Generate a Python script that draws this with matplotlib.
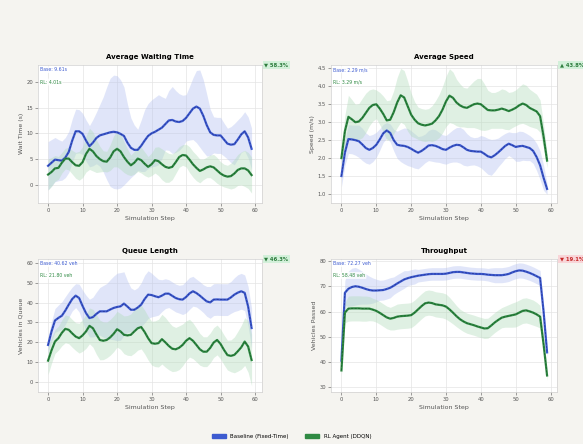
"""Baseline vs RL agent traffic metrics, 2x2 panel."""

import numpy as np
import matplotlib
matplotlib.use("Agg")
import matplotlib.pyplot as plt
from matplotlib.patches import Patch


STEPS = list(range(60))

WAIT_BASE = [3.7, 4.3, 4.9, 4.8, 4.7, 5.3, 6.4, 8.6, 10.4, 10.4, 9.9, 8.6, 7.5, 8.2, 9.1, 9.6, 9.8, 10.0, 10.2, 10.3,
             10.2, 9.9, 9.5, 8.2, 7.2, 6.8, 6.8, 7.6, 8.6, 9.5, 10.0, 10.3, 10.7, 11.1, 11.8, 12.5, 12.6, 12.3, 12.2, 12.4,
             13.0, 13.9, 14.8, 15.2, 14.8, 13.4, 11.6, 10.2, 9.7, 9.6, 9.6, 8.8, 8.0, 7.8, 7.9, 8.8, 9.8, 10.4, 9.2, 7.0]
WAIT_BASE_STD = [4.7, 4.5, 4.3, 4.0, 3.8, 3.9, 4.0, 4.2, 4.3, 4.2, 4.0, 4.0, 4.0, 4.5, 5.0, 6.0, 7.3, 9.0, 10.5, 11.0,
                 11.0, 10.5, 9.5, 7.5, 5.8, 4.8, 4.0, 5.0, 6.0, 6.3, 6.5, 6.7, 6.8, 6.0, 5.0, 5.8, 6.5, 6.0, 5.5, 5.0,
                 4.5, 5.2, 6.0, 7.0, 7.5, 7.0, 6.0, 4.5, 3.5, 3.5, 3.5, 3.2, 3.0, 3.5, 4.0, 3.8, 3.5, 3.8, 4.0, 4.0]
WAIT_RL = [2.0, 2.5, 3.2, 3.3, 4.3, 5.1, 5.1, 4.4, 3.8, 3.7, 4.4, 6.0, 7.0, 6.5, 5.6, 5.0, 4.6, 4.5, 5.3, 6.5,
           7.0, 6.5, 5.4, 4.5, 3.8, 4.3, 5.1, 4.8, 4.1, 3.5, 4.0, 4.8, 4.6, 4.0, 3.5, 3.3, 3.5, 4.4, 5.4, 5.8,
           5.7, 4.9, 4.0, 3.3, 2.7, 3.0, 3.4, 3.6, 3.4, 2.8, 2.2, 1.8, 1.6, 1.7, 2.2, 2.9, 3.2, 3.2, 2.8, 1.9]
WAIT_RL_STD = [3.0, 2.8, 2.5, 2.2, 2.0, 2.0, 2.2, 2.3, 2.5, 2.8, 3.0, 3.5, 4.0, 3.8, 3.2, 2.5, 2.0, 2.0, 2.5, 3.0,
               3.5, 3.5, 3.0, 2.5, 2.0, 2.2, 2.5, 2.5, 2.3, 2.0, 2.2, 2.5, 2.8, 3.0, 3.0, 2.8, 2.5, 2.2, 2.0, 2.0,
               2.2, 2.5, 2.5, 2.5, 2.3, 2.0, 2.0, 2.2, 2.5, 2.5, 2.3, 2.2, 2.2, 2.5, 2.8, 3.0, 3.2, 3.5, 3.5, 3.5]

SPEED_BASE = [1.50, 2.15, 2.53, 2.52, 2.50, 2.47, 2.38, 2.28, 2.23, 2.28, 2.37, 2.52, 2.69, 2.77, 2.70, 2.50, 2.37, 2.35, 2.34, 2.31,
              2.26, 2.20, 2.15, 2.20, 2.27, 2.35, 2.36, 2.34, 2.30, 2.25, 2.23, 2.29, 2.34, 2.37, 2.36, 2.30, 2.23, 2.20, 2.19, 2.18,
              2.18, 2.12, 2.05, 2.02, 2.08, 2.16, 2.25, 2.34, 2.40, 2.36, 2.31, 2.33, 2.34, 2.31, 2.28, 2.20, 2.03, 1.80, 1.45, 1.14]
SPEED_BASE_STD = [0.30, 0.35, 0.40, 0.40, 0.42, 0.45, 0.45, 0.42, 0.40, 0.38, 0.35, 0.30, 0.25, 0.22, 0.25, 0.30, 0.38, 0.45, 0.50, 0.52,
                  0.50, 0.48, 0.45, 0.42, 0.40, 0.42, 0.45, 0.45, 0.42, 0.40, 0.40, 0.42, 0.45, 0.48, 0.50, 0.50, 0.45, 0.40, 0.38, 0.40,
                  0.45, 0.48, 0.50, 0.50, 0.45, 0.40, 0.38, 0.35, 0.33, 0.35, 0.40, 0.42, 0.40, 0.38, 0.35, 0.35, 0.38, 0.40, 0.35, 0.15]
SPEED_RL = [2.00, 2.75, 3.15, 3.08, 3.00, 3.02, 3.12, 3.26, 3.40, 3.48, 3.50, 3.38, 3.23, 3.05, 3.07, 3.28, 3.55, 3.75, 3.69, 3.45,
            3.21, 3.07, 2.97, 2.93, 2.91, 2.93, 2.96, 3.05, 3.17, 3.35, 3.58, 3.74, 3.68, 3.55, 3.47, 3.42, 3.40, 3.45, 3.50, 3.52,
            3.50, 3.42, 3.34, 3.33, 3.33, 3.35, 3.38, 3.35, 3.31, 3.35, 3.40, 3.47, 3.52, 3.48, 3.40, 3.35, 3.30, 3.17, 2.60, 1.93]
SPEED_RL_STD = [0.25, 0.45, 0.60, 0.55, 0.50, 0.50, 0.55, 0.55, 0.50, 0.45, 0.40, 0.45, 0.50, 0.55, 0.55, 0.60, 0.70, 0.75, 0.75, 0.70,
                0.60, 0.50, 0.45, 0.45, 0.45, 0.45, 0.50, 0.55, 0.60, 0.65, 0.70, 0.75, 0.72, 0.65, 0.60, 0.55, 0.55, 0.60, 0.65, 0.70,
                0.72, 0.65, 0.55, 0.50, 0.50, 0.52, 0.55, 0.55, 0.52, 0.50, 0.50, 0.52, 0.55, 0.55, 0.52, 0.50, 0.48, 0.45, 0.35, 0.20]

QUEUE_BASE = [18.7, 25.5, 31.0, 32.3, 33.4, 36.0, 39.0, 41.8, 43.5, 42.3, 38.3, 34.7, 32.2, 32.7, 34.3, 35.6, 35.6, 35.6, 36.5, 37.3,
              37.8, 38.1, 39.5, 38.0, 36.4, 36.4, 37.5, 39.0, 41.8, 44.0, 43.8, 43.2, 42.7, 43.5, 44.5, 44.5, 43.4, 42.3, 41.7, 41.5,
              42.8, 44.6, 45.7, 44.8, 43.5, 42.0, 40.6, 40.1, 41.5, 41.6, 41.5, 41.5, 41.5, 42.6, 44.0, 45.0, 45.7, 44.9, 38.0, 27.2]
QUEUE_BASE_STD = [4.0, 5.0, 6.0, 6.5, 7.0, 7.0, 6.5, 6.0, 6.0, 7.0, 8.0, 9.0, 9.5, 10.0, 11.0, 12.0, 13.0, 14.0, 15.0, 16.0,
                  17.0, 17.0, 16.0, 13.0, 11.0, 10.0, 10.0, 11.0, 12.0, 12.0, 11.0, 10.0, 9.0, 8.0, 7.5, 7.0, 7.0, 7.0, 7.0, 7.5,
                  8.0, 8.0, 7.5, 7.0, 7.0, 7.0, 7.5, 8.0, 8.0, 8.0, 8.0, 8.0, 8.0, 8.0, 8.5, 9.0, 9.0, 9.0, 10.0, 10.0]
QUEUE_RL = [10.8, 16.0, 20.4, 22.1, 24.8, 26.8, 26.3, 24.5, 22.9, 22.1, 23.5, 25.5, 28.3, 27.1, 24.0, 21.2, 20.8, 21.2, 22.5, 24.3,
            26.6, 25.5, 23.8, 23.5, 23.8, 25.5, 27.1, 27.7, 25.2, 22.1, 19.6, 19.3, 19.6, 21.6, 20.0, 18.2, 16.8, 16.5, 17.3, 18.7,
            20.8, 22.1, 20.8, 18.7, 16.5, 15.3, 15.3, 17.2, 19.9, 21.2, 19.2, 16.2, 13.6, 13.2, 13.7, 15.5, 17.5, 20.4, 17.9, 11.1]
QUEUE_RL_STD = [7.0, 6.5, 6.0, 6.0, 6.5, 7.0, 7.0, 7.0, 7.0, 7.5, 8.0, 8.5, 9.0, 9.5, 10.0, 10.0, 9.5, 9.0, 9.0, 9.0,
                9.0, 9.0, 9.5, 10.0, 10.5, 11.0, 11.0, 11.0, 11.0, 11.0, 11.0, 11.5, 12.0, 12.5, 12.5, 12.0, 11.5, 11.0, 11.0, 10.5,
                10.0, 9.5, 9.0, 8.5, 8.0, 7.5, 7.5, 7.5, 7.5, 7.5, 7.5, 7.5, 7.5, 8.0, 9.0, 10.0, 11.0, 12.0, 13.0, 13.0]

THRU_BASE = [40.5, 67.5, 69.1, 69.8, 70.1, 69.9, 69.5, 69.0, 68.6, 68.4, 68.4, 68.5, 68.6, 69.0, 69.5, 70.3, 71.2, 72.0, 72.8, 73.3,
             73.7, 74.0, 74.3, 74.5, 74.7, 74.9, 75.0, 75.0, 75.0, 75.0, 75.1, 75.4, 75.7, 75.8, 75.8, 75.6, 75.4, 75.2, 75.1, 75.0,
             75.0, 74.9, 74.7, 74.6, 74.5, 74.5, 74.5, 74.7, 75.0, 75.6, 76.1, 76.4, 76.3, 75.9, 75.4, 74.8, 74.1, 73.4, 60.0, 43.8]
THRU_BASE_STD = [3.0, 5.0, 7.0, 7.5, 7.5, 7.0, 6.5, 6.0, 5.5, 5.0, 4.5, 4.0, 4.0, 4.0, 4.0, 3.5, 3.5, 3.5, 3.5, 3.0,
                 3.0, 3.0, 2.5, 2.5, 2.5, 2.5, 2.5, 2.5, 2.5, 2.5, 2.5, 2.5, 2.5, 2.5, 2.5, 2.5, 2.5, 2.5, 2.5, 2.5,
                 2.5, 2.5, 2.5, 2.8, 3.0, 3.0, 3.0, 3.0, 3.0, 3.0, 3.0, 3.0, 3.0, 3.0, 3.0, 3.0, 3.0, 3.0, 2.5, 2.0]
THRU_RL = [36.6, 59.6, 61.2, 61.3, 61.3, 61.3, 61.2, 61.2, 61.2, 60.8, 60.3, 59.5, 58.6, 57.7, 57.2, 57.5, 58.0, 58.2, 58.3, 58.4,
           58.6, 59.6, 60.9, 62.2, 63.3, 63.6, 63.4, 62.9, 62.7, 62.5, 62.0, 60.9, 59.6, 58.2, 57.0, 56.1, 55.4, 55.0, 54.6, 54.1,
           53.7, 53.3, 53.4, 54.5, 55.7, 56.7, 57.6, 58.0, 58.3, 58.6, 58.9, 59.6, 60.3, 60.5, 60.1, 59.6, 58.9, 58.0, 47.0, 34.6]
THRU_RL_STD = [2.0, 4.0, 5.0, 5.0, 5.0, 5.0, 5.0, 5.0, 4.8, 4.5, 4.5, 4.5, 4.5, 4.5, 4.5, 4.8, 5.0, 5.0, 5.0, 5.0,
               5.0, 5.0, 5.0, 5.0, 5.0, 5.0, 5.0, 5.0, 5.0, 5.0, 5.0, 4.8, 4.5, 4.2, 4.0, 4.0, 4.0, 4.0, 4.0, 4.0,
               4.0, 4.0, 4.0, 4.0, 4.0, 4.0, 4.0, 4.2, 4.5, 4.8, 5.0, 5.0, 5.0, 5.0, 5.0, 5.0, 4.8, 4.5, 3.5, 2.0]

TITLES = ["Average Waiting Time", "Average Speed", "Queue Length", "Throughput"]
YLABELS = ["Wait Time (s)", "Speed (m/s)", "Vehicles in Queue", "Vehicles Passed"]
BASE_TEXT = ["Base: 9.61s", "Base: 2.29 m/s", "Base: 40.62 veh", "Base: 72.27 veh"]
RL_TEXT = ["RL: 4.01s", "RL: 3.29 m/s", "RL: 21.80 veh", "RL: 58.48 veh"]
BADGES = ["\u25bc 58.3%", "\u25b2 43.8%", "\u25bc 46.3%", "\u25bc 19.1%"]
BADGE_GOOD = [True, True, True, False]
YLIMS = [(-3.5, 23.3), (0.75, 4.6), (-5, 62), (28, 81)]
YTICKS = [[0, 5, 10, 15, 20], [1.0, 1.5, 2.0, 2.5, 3.0, 3.5, 4.0, 4.5],
          [0, 10, 20, 30, 40, 50, 60], [30, 40, 50, 60, 70, 80]]

BLUE = "#3d5bd0"
BLUE_DARK = "#25338f"
GREEN = "#2f8a43"
GREEN_DARK = "#1a5a2a"
BG = "#f5f4f0"


def draw_panel(ax, idx, base, base_std, rl, rl_std):
    x = np.array(STEPS)
    base, base_std = np.array(base), np.array(base_std)
    rl, rl_std = np.array(rl), np.array(rl_std)
    ax.fill_between(x, base - base_std, base + base_std, color="#b3c0f0", alpha=0.4, lw=0)
    ax.fill_between(x, rl - rl_std, rl + rl_std, color="#b0dbb9", alpha=0.4, lw=0)
    ax.plot(x, base, color=BLUE, lw=1.6)
    ax.plot(x, base, color=BLUE_DARK, lw=0.5, ls=(0, (3, 2)))
    ax.plot(x, rl, color=GREEN, lw=1.6)
    ax.plot(x, rl, color=GREEN_DARK, lw=0.5, ls=(0, (3, 2)))

    ax.set_facecolor("white")
    ax.set_title(TITLES[idx], fontsize=5, fontweight="bold", pad=4)
    ax.set_xlabel("Simulation Step", fontsize=4.5, color="#555555", labelpad=2)
    ax.set_ylabel(YLABELS[idx], fontsize=4.5, color="#555555", labelpad=2)
    ax.set_ylim(*YLIMS[idx])
    ax.set_yticks(YTICKS[idx])
    ax.set_xticks([0, 10, 20, 30, 40, 50, 60])
    ax.tick_params(labelsize=3.8, length=2, width=0.5, pad=1.5, colors="#777777", labelcolor="#555555")
    ax.grid(True, color="#e4e4e4", lw=0.5)
    ax.set_axisbelow(True)
    for spine in ax.spines.values():
        spine.set_color("#d0d0d0")
        spine.set_linewidth(0.5)

    box = dict(boxstyle="round,pad=0.2", fc="white", ec="none", alpha=0.8)
    ax.text(0.01, 0.965, BASE_TEXT[idx], transform=ax.transAxes, fontsize=3.3,
            color=BLUE, ha="left", va="center", bbox=box)
    ax.text(0.01, 0.875, RL_TEXT[idx], transform=ax.transAxes, fontsize=3.3,
            color=GREEN, ha="left", va="center", bbox=box)

    if BADGE_GOOD[idx]:
        fc, tc = "#d3f0da", "#2e7d3e"
    else:
        fc, tc = "#f8d5d8", "#c62828"
    ax.text(1.012, 1.0, BADGES[idx], transform=ax.transAxes, fontsize=3.8,
            fontweight="bold", color=tc, ha="left", va="center",
            bbox=dict(boxstyle="square,pad=0.3", fc=fc, ec="none"))


def main():
    fig = plt.figure(figsize=(5.83, 4.44), dpi=100, facecolor=BG)
    rects = [
        [0.065, 0.543, 0.384, 0.311],
        [0.568, 0.543, 0.388, 0.311],
        [0.065, 0.117, 0.384, 0.300],
        [0.568, 0.117, 0.388, 0.300],
    ]
    series = [
        (WAIT_BASE, WAIT_BASE_STD, WAIT_RL, WAIT_RL_STD),
        (SPEED_BASE, SPEED_BASE_STD, SPEED_RL, SPEED_RL_STD),
        (QUEUE_BASE, QUEUE_BASE_STD, QUEUE_RL, QUEUE_RL_STD),
        (THRU_BASE, THRU_BASE_STD, THRU_RL, THRU_RL_STD),
    ]
    for idx, (rect, data) in enumerate(zip(rects, series)):
        for arr in data:
            assert len(arr) == len(STEPS)
        ax = fig.add_axes(rect)
        draw_panel(ax, idx, *data)

    handles = [Patch(color=BLUE, label="Baseline (Fixed-Time)"),
               Patch(color=GREEN, label="RL Agent (DDQN)")]
    fig.legend(handles=handles, loc="lower center", bbox_to_anchor=(0.5, 0.0), ncol=2,
               frameon=False, fontsize=4, handlelength=2.5, handleheight=0.6, columnspacing=3)
    fig.savefig("out.png", dpi=100, facecolor=BG)


if __name__ == "__main__":
    main()
